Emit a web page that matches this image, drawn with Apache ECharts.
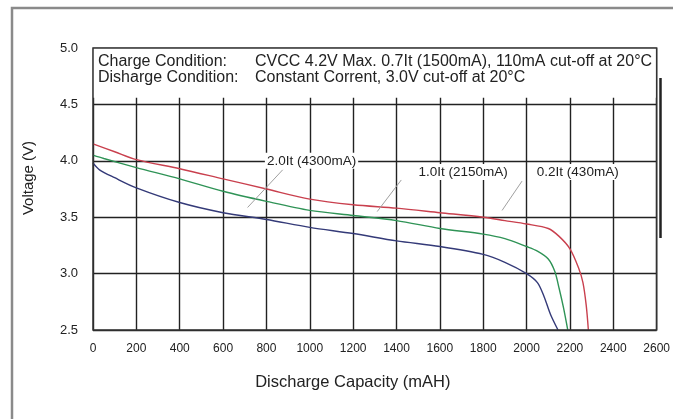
<!DOCTYPE html>
<html><head><meta charset="utf-8">
<script src="https://cdn.jsdelivr.net/npm/echarts@6/dist/echarts.min.js"></script>
<style>html,body{margin:0;padding:0;background:#fff}#c{width:673px;height:419px}</style>
</head><body><div id="c"></div>
<script>
// 0.2It (430mA) - red
const capRed = [0, 100, 200, 400, 600, 800, 1000, 1200, 1400, 1600, 1800, 1900, 2000, 2100, 2150, 2200, 2240, 2260, 2275, 2285];
const voltRed = [4.15, 4.08, 4.01, 3.93, 3.84, 3.75, 3.66, 3.61, 3.58, 3.54, 3.50, 3.47, 3.44, 3.40, 3.33, 3.22, 3.05, 2.92, 2.72, 2.50];
// 1.0It (2150mA) - green
const capGreen = [0, 50, 200, 400, 600, 800, 1000, 1200, 1400, 1600, 1800, 1900, 2000, 2050, 2100, 2130, 2150, 2170, 2190];
const voltGreen = [4.05, 4.02, 3.94, 3.84, 3.73, 3.64, 3.56, 3.515, 3.47, 3.40, 3.35, 3.31, 3.24, 3.20, 3.13, 3.02, 2.87, 2.70, 2.50];
// 2.0It (4300mA) - blue
const capBlue = [0, 30, 100, 200, 400, 600, 800, 1000, 1200, 1400, 1600, 1800, 1900, 2000, 2050, 2080, 2110, 2145];
const voltBlue = [3.98, 3.92, 3.85, 3.76, 3.63, 3.54, 3.48, 3.41, 3.355, 3.29, 3.24, 3.17, 3.10, 3.00, 2.92, 2.80, 2.64, 2.50];

const seriesNames = ['0.2It (430mA)', '1.0It (2150mA)', '2.0It (4300mA)'];
// annotation: label centre, leader start (dot on curve), leader end
const labelPos = [[2236, 3.90], [1707, 3.90], [1008, 4.00]];
const leaderDot = [[1887, 3.56], [1311, 3.55], [713, 3.586]];
const leaderEnd = [[1979, 3.82], [1422, 3.83], [875, 3.92]];

const xTicks = {min: 0, max: 2600, interval: 200};
const yTicks = {min: 2.5, max: 5.0, interval: 0.5};
const boxBottom = 4.56;
const condLines = [
  ['Charge Condition:', 'CVCC 4.2V Max. 0.7It (1500mA), 110mA cut-off at 20°C'],
  ['Disharge Condition:', 'Constant Corrent, 3.0V cut-off at 20°C']
];

const zip = (a, b) => a.map((x, i) => [x, b[i]]);
const colors = ['#c9404e', '#2f9356', '#343a78'];
const font = 'Liberation Sans, Arial, sans-serif';

function annot(i) {
  return {
    markLine: {
      silent: true, symbol: ['circle', 'none'], symbolSize: [4, 0],
      lineStyle: {color: '#a0a0a0', width: 1, type: 'solid'},
      itemStyle: {color: '#555'},
      label: {show: false},
      data: [[{coord: leaderDot[i]}, {coord: leaderEnd[i]}]]
    },
    markPoint: {
      silent: true, symbol: 'rect', symbolSize: 0,
      label: {show: true, formatter: seriesNames[i], color: '#222', fontFamily: font, fontSize: 13.5,
        backgroundColor: '#fff', padding: [1, 2]},
      data: [{coord: labelPos[i]}]
    }
  };
}

const chart = echarts.init(document.getElementById('c'));
chart.setOption({
  backgroundColor: '#fff',
  animation: false,
  grid: {left: 93, right: 15, top: 48, bottom: 89, show: true, z: 5,
    backgroundColor: 'transparent', borderColor: '#333', borderWidth: 1.5},
  xAxis: {
    type: 'value', min: xTicks.min, max: xTicks.max, interval: xTicks.interval,
    name: 'Discharge Capacity (mAH)', nameLocation: 'middle', nameGap: 44,
    nameTextStyle: {fontFamily: font, fontSize: 16.5, color: '#222', padding: [0, 44, 0, 0]},
    axisLine: {show: false}, axisTick: {show: false},
    axisLabel: {fontFamily: font, fontSize: 12, color: '#222', margin: 13, formatter: v => String(v)},
    splitLine: {show: true, lineStyle: {color: '#222', width: 1.4}}
  },
  yAxis: {
    type: 'value', min: yTicks.min, max: yTicks.max, interval: yTicks.interval,
    name: 'Voltage (V)', nameLocation: 'middle', nameGap: 57,
    nameTextStyle: {fontFamily: font, fontSize: 15, color: '#222', padding: [0, 0, 0, 22]},
    axisLine: {show: false}, axisTick: {show: false},
    axisLabel: {fontFamily: font, fontSize: 13, color: '#222', margin: 15, formatter: v => v.toFixed(1)},
    splitLine: {show: true, lineStyle: {color: '#222', width: 1.4}}
  },
  graphic: [
    {type: 'rect', shape: {x: 12, y: 8, width: 700, height: 500}, style: {fill: 'none', stroke: '#8a8a8a', lineWidth: 2.5}, silent: true},
    {type: 'line', shape: {x1: 660.5, y1: 78, x2: 660.5, y2: 238}, style: {stroke: '#222', lineWidth: 2.5}, silent: true, z: 10}
  ],
  series: [
    Object.assign({
      name: seriesNames[0], type: 'line', smooth: 0.3, showSymbol: false,
      data: zip(capRed, voltRed), lineStyle: {color: colors[0], width: 1.4}, itemStyle: {color: colors[0]},
      z: 3
    }, annot(0), {
      markArea: {
        silent: true,
        itemStyle: {color: '#fff', opacity: 1, borderWidth: 0},
        label: {
          show: true, position: [5, 6], color: '#222', fontFamily: font, fontSize: 16,
          formatter: condLines.map(l => '{a|' + l[0] + '}{b|' + l[1] + '}').join('\n'),
          rich: {a: {width: 157, fontSize: 16, fontFamily: font, color: '#222', lineHeight: 15.5},
                 b: {fontSize: 16, fontFamily: font, color: '#222', lineHeight: 15.5}}
        },
        data: [[{coord: [xTicks.min, boxBottom]}, {coord: [xTicks.max, yTicks.max]}]]
      }
    }),
    Object.assign({
      name: seriesNames[1], type: 'line', smooth: 0.3, showSymbol: false,
      data: zip(capGreen, voltGreen), lineStyle: {color: colors[1], width: 1.4}, itemStyle: {color: colors[1]},
      z: 3
    }, annot(1)),
    Object.assign({
      name: seriesNames[2], type: 'line', smooth: 0.3, showSymbol: false,
      data: zip(capBlue, voltBlue), lineStyle: {color: colors[2], width: 1.4}, itemStyle: {color: colors[2]},
      z: 3
    }, annot(2))
  ]
});
</script>
</body></html>
